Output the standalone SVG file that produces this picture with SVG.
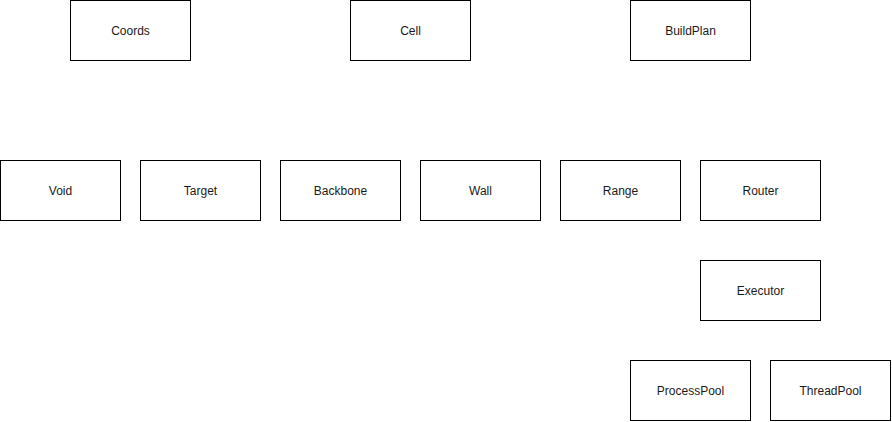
<svg xmlns="http://www.w3.org/2000/svg" width="892" height="422" viewBox="0 0 892 422">
  <style>
    .box { fill: #ffffff; stroke: #000000; stroke-width: 1; }
    .label { font-family: "Liberation Sans", Arial, Helvetica, sans-serif; font-size: 12px; fill: #1a1a1a; text-anchor: middle; dominant-baseline: central; }
  </style>
  <rect x="0" y="0" width="892" height="422" fill="#ffffff"/>
  <g id="connectors"></g>
  <g id="Coords"><rect class="box" x="70.5" y="0.5" width="120" height="60"/><text class="label" x="130.5" y="30.5">Coords</text></g>
  <g id="Cell"><rect class="box" x="350.5" y="0.5" width="120" height="60"/><text class="label" x="410.5" y="30.5">Cell</text></g>
  <g id="BuildPlan"><rect class="box" x="630.5" y="0.5" width="120" height="60"/><text class="label" x="690.5" y="30.5">BuildPlan</text></g>
  <g id="Void"><rect class="box" x="0.5" y="160.5" width="120" height="60"/><text class="label" x="60.5" y="190.5">Void</text></g>
  <g id="Target"><rect class="box" x="140.5" y="160.5" width="120" height="60"/><text class="label" x="200.5" y="190.5">Target</text></g>
  <g id="Backbone"><rect class="box" x="280.5" y="160.5" width="120" height="60"/><text class="label" x="340.5" y="190.5">Backbone</text></g>
  <g id="Wall"><rect class="box" x="420.5" y="160.5" width="120" height="60"/><text class="label" x="480.5" y="190.5">Wall</text></g>
  <g id="Range"><rect class="box" x="560.5" y="160.5" width="120" height="60"/><text class="label" x="620.5" y="190.5">Range</text></g>
  <g id="Router"><rect class="box" x="700.5" y="160.5" width="120" height="60"/><text class="label" x="760.5" y="190.5">Router</text></g>
  <g id="Executor"><rect class="box" x="700.5" y="260.5" width="120" height="60"/><text class="label" x="760.5" y="290.5">Executor</text></g>
  <g id="ProcessPool"><rect class="box" x="630.5" y="360.5" width="120" height="60"/><text class="label" x="690.5" y="390.5">ProcessPool</text></g>
  <g id="ThreadPool"><rect class="box" x="770.5" y="360.5" width="120" height="60"/><text class="label" x="830.5" y="390.5">ThreadPool</text></g>
</svg>
